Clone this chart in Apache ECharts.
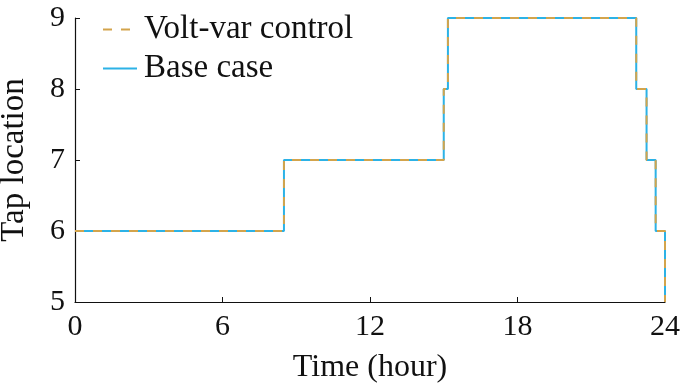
<!DOCTYPE html>
<html>
<head>
<meta charset="utf-8">
<script src="https://cdn.jsdelivr.net/npm/echarts@6/dist/echarts.min.js"></script>
<style>html,body{margin:0;padding:0;background:#fff}#c{width:684px;height:390px}</style>
</head>
<body>
<div id="c"></div>
<script>
// Change points of the tap position (hour, tap)
const baseTimes = [0, 8.5, 15, 15.17, 22.83, 23.25, 23.62, 24];
const baseTaps  = [6, 7, 8, 9, 8, 7, 6, 5];
const vvcTimes  = [0, 8.5, 15, 15.17, 22.83, 23.25, 23.62, 24];
const vvcTaps   = [6, 7, 8, 9, 8, 7, 6, 5];
const xTicks = [0, 6, 12, 18, 24];
const yTicks = [5, 6, 7, 8, 9];

const toPairs = (xs, ys) => xs.map((x, i) => [x, ys[i]]);
const font = 'Liberation Serif';
const chart = echarts.init(document.getElementById('c'), null, {renderer: 'canvas'});
chart.setOption({
  animation: false,
  backgroundColor: '#fff',
  grid: {left: 75, right: 19, top: 18, bottom: 88, containLabel: false, outerBoundsMode: 'none'},
  legend: {
    orient: 'vertical', left: 97, top: 8,
    data: ['Volt-var control', 'Base case'],
    itemWidth: 34, itemHeight: 14, itemGap: 6,
    itemStyle: {opacity: 0},
    textStyle: {fontFamily: font, fontSize: 33, color: '#111', padding: [0, 0, 0, 2], lineHeight: 32}
  },
  xAxis: {
    type: 'value', min: xTicks[0], max: xTicks[xTicks.length - 1], interval: 6,
    name: 'Time (hour)', nameLocation: 'middle', nameGap: 50,
    nameTextStyle: {fontFamily: font, fontSize: 32, color: '#111'},
    axisLine: {show: true, lineStyle: {color: '#111', width: 1.2}},
    axisTick: {show: true, inside: true, length: 5, lineStyle: {color: '#111'}},
    axisLabel: {fontFamily: font, fontSize: 30, color: '#111', margin: 10},
    splitLine: {show: false}
  },
  yAxis: {
    type: 'value', min: yTicks[0], max: yTicks[yTicks.length - 1], interval: 1,
    name: 'Tap location', nameLocation: 'middle', nameGap: 44,
    nameTextStyle: {fontFamily: font, fontSize: 33, color: '#111'},
    axisLine: {show: true, lineStyle: {color: '#111', width: 1.2}},
    axisTick: {show: true, inside: true, length: 5, lineStyle: {color: '#111'}},
    axisLabel: {fontFamily: font, fontSize: 30, color: '#111', margin: 10},
    splitLine: {show: false}
  },
  series: [
    {
      name: 'Base case', type: 'line', step: 'end', symbol: 'none', z: 2,
      data: toPairs(baseTimes, baseTaps),
      lineStyle: {color: '#2cb2e6', width: 2},
      itemStyle: {color: '#2cb2e6'}
    },
    {
      name: 'Volt-var control', type: 'line', step: 'end', symbol: 'none', z: 3,
      data: toPairs(vvcTimes, vvcTaps),
      lineStyle: {color: '#d3a44c', width: 2, type: [9, 9]},
      itemStyle: {color: '#d3a44c'}
    }
  ]
});
</script>
</body>
</html>
